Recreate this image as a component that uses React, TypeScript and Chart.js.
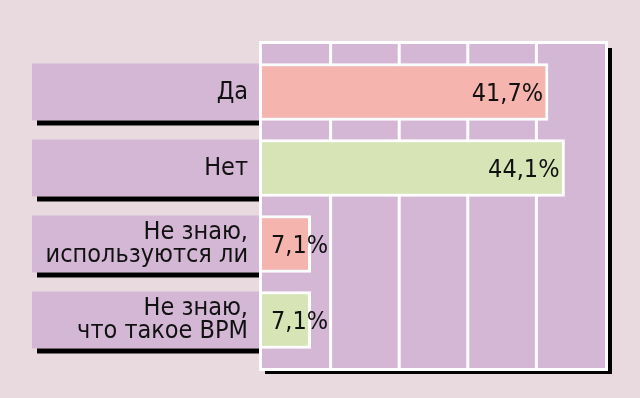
import React, { useEffect, useRef } from "react";
import { Chart, registerables } from "chart.js";

Chart.register(...registerables);

const categories: (string | string[])[] = [
  "Да",
  "Нет",
  ["Не знаю,", "используются ли"],
  ["Не знаю,", "что такое BPM"],
];
const values = [41.7, 44.1, 7.1, 7.1];
const valueLabels = ["41,7%", "44,1%", "7,1%", "7,1%"];
const barColors = ["#f5b4ad", "#d7e5b6", "#f5b4ad", "#d7e5b6"];
const gridValues = [10, 20, 30, 40];

const BG = "#e9dadf";
const PURPLE = "#d3b7d5";
const FONT = '"Liberation Sans Narrow", "DejaVu Sans Condensed", sans-serif';

const decorPlugin = {
  id: "decor",
  beforeDraw(chart: any) {
    const { ctx, chartArea, scales } = chart;
    const x = scales.x;
    const y = scales.y;
    ctx.save();
    ctx.fillStyle = BG;
    ctx.fillRect(0, 0, chart.width, chart.height);

    // category label boxes
    const half = 28.5;
    categories.forEach((_, i) => {
      const c = y.getPixelForValue(i);
      ctx.fillStyle = PURPLE;
      ctx.fillRect(32, c - half, chartArea.left - 32, half * 2);
      ctx.fillStyle = "#000";
      ctx.fillRect(37, c + half, chartArea.left - 37, 5);
    });

    // plot frame
    const top = chartArea.top - 10;
    const bottom = chartArea.bottom + 10;
    const left = chartArea.left;
    const right = chartArea.right;
    ctx.fillStyle = "#000";
    ctx.fillRect(right + 2, top + 4, 5, bottom - top + 2);
    ctx.fillRect(left + 3, bottom + 1, right - left + 4, 5);
    ctx.fillStyle = "#fff";
    ctx.fillRect(left - 3, top - 3, right - left + 6, bottom - top + 6);
    ctx.fillStyle = PURPLE;
    ctx.fillRect(left, top, right - left, bottom - top);
    ctx.fillStyle = "#fff";
    gridValues.forEach((v) => {
      const px = x.getPixelForValue(v);
      ctx.fillRect(px - 1.5, top, 3, bottom - top);
    });
    ctx.restore();
  },
  afterDatasetsDraw(chart: any) {
    const { ctx, scales } = chart;
    const x = scales.x;
    const y = scales.y;
    ctx.save();
    ctx.fillStyle = "#111";
    ctx.font = `25px ${FONT}`;
    ctx.textBaseline = "middle";
    values.forEach((v, i) => {
      const c = y.getPixelForValue(i) + 2;
      if (v > 20) {
        ctx.textAlign = "right";
        ctx.fillText(valueLabels[i], x.getPixelForValue(v) - 5, c);
      } else {
        ctx.textAlign = "left";
        ctx.fillText(valueLabels[i], x.getPixelForValue(0) + 9, c);
      }
    });
    ctx.restore();
  },
};

export default function App() {
  const ref = useRef<HTMLCanvasElement | null>(null);
  useEffect(() => {
    if (!ref.current) return;
    const chart = new Chart(ref.current, {
      type: "bar",
      data: {
        labels: categories as any,
        datasets: [
          {
            data: values,
            backgroundColor: barColors,
            borderColor: "#fff",
            borderWidth: 3,
            borderSkipped: "start",
            barThickness: 57,
          },
        ],
      },
      options: {
        indexAxis: "y",
        animation: false,
        responsive: true,
        maintainAspectRatio: false,
        layout: { padding: { left: 0, top: 54, right: 35, bottom: 40 } },
        plugins: { legend: { display: false }, tooltip: { enabled: false } },
        scales: {
          x: { display: false, min: 0, max: 50 },
          y: {
            grid: { display: false, drawTicks: false },
            border: { display: false },
            afterFit: (s: any) => {
              s.width = 262;
            },
            ticks: {
              padding: 14,
              color: "#111",
              font: { family: FONT, size: 25, lineHeight: 0.94 },
            },
          },
        },
      },
      plugins: [decorPlugin],
    });
    return () => chart.destroy();
  }, []);
  return (
    <div style={{ position: "absolute", left: 0, top: 0, width: 640, height: 398 }}>
      <canvas ref={ref} />
    </div>
  );
}
